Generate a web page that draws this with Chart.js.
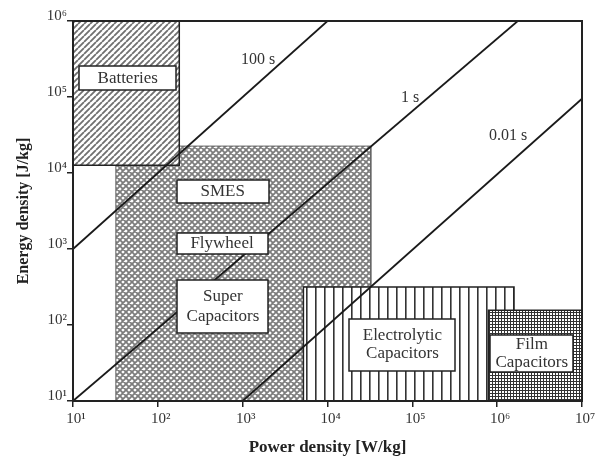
<!DOCTYPE html>
<html><head><meta charset="utf-8">
<script src="https://cdn.jsdelivr.net/npm/chart.js@4.4.0/dist/chart.umd.min.js"></script>
<style>html,body{margin:0;padding:0;background:#fff}#wrap{width:606px;height:464px}</style>
</head><body><div id="wrap"><canvas id="c" width="606" height="464"></canvas></div>
<script>
// ---- tick values / labels ----
const xTickValues = [1e1, 1e2, 1e3, 1e4, 1e5, 1e6, 1e7];
const xTickLabels = ['10¹', '10²', '10³', '10⁴', '10⁵', '10⁶', '10⁷'];
const yTickValues = [1e1, 1e2, 1e3, 1e4, 1e5, 1e6];
const yTickLabels = ['10¹', '10²', '10³', '10⁴', '10⁵', '10⁶'];

// ---- technology regions (W/kg, J/kg) ----
const categories = ['Batteries', 'SMES / Flywheel / Super Capacitors', 'Electrolytic Capacitors', 'Film Capacitors'];
const powerMin  = [10,     32,     5200,   7.9e5];
const powerMax  = [179,    3.24e4, 1.58e6, 1e7];
const energyMin = [1.26e4, 10,     10,     10];
const energyMax = [1e6,    2.26e4, 316,    156];

// ---- discharge-time lines ----
const dischargeTimes   = ['100 s', '1 s', '0.01 s'];
const lineStartPower   = [10,   10,     1e3];
const lineStartEnergy  = [1e3,  10,     10];
const lineEndPower     = [1e4,  1.75e6, 1e7];
const lineEndEnergy    = [1e6,  1e6,    9.5e4];

// ---- label placement (data coordinates) ----
const boxLayout = [
  {lines: ['Batteries'], p: 44.2, e: 1.77e5, w: 97, h: 24, lh: 19},
  {lines: ['SMES'], p: 582, e: 5740, w: 92, h: 23, lh: 19},
  {lines: ['Flywheel'], p: 571, e: 1190, w: 91, h: 21, lh: 19},
  {lines: ['Super', 'Capacitors'], p: 585, e: 172.6, w: 91, h: 53, lh: 20},
  {lines: ['Electrolytic', 'Capacitors'], p: 76400, e: 55.3, w: 106, h: 52, lh: 18.5},
  {lines: ['Film', 'Capacitors'], p: 2.56e6, e: 42, w: 83, h: 37, lh: 18}
];
const lineLabelLayout = [
  {p: 1516, e: 3.13e5},
  {p: 94200, e: 99000},
  {p: 1.35e6, e: 31300}
];

const SERIF = "'Liberation Serif', 'Times New Roman', serif";

function makePattern(kind) {
  const c = document.createElement('canvas');
  const ctx = c.getContext('2d');
  if (kind === 'diag') {
    c.width = 6; c.height = 6;
    ctx.fillStyle = '#fff'; ctx.fillRect(0, 0, 6, 6);
    ctx.strokeStyle = '#707070'; ctx.lineWidth = 1.8;
    ctx.beginPath();
    for (const o of [-6, 0, 6]) { ctx.moveTo(o, 6); ctx.lineTo(o + 6, 0); }
    ctx.stroke();
  } else if (kind === 'cross') {
    c.width = 6; c.height = 6;
    ctx.fillStyle = '#fff'; ctx.fillRect(0, 0, 6, 6);
    ctx.strokeStyle = '#7c7c7c'; ctx.lineWidth = 1.8;
    ctx.beginPath();
    for (const o of [-6, 0, 6]) {
      ctx.moveTo(o, 6); ctx.lineTo(o + 6, 0);
      ctx.moveTo(o, 0); ctx.lineTo(o + 6, 6);
    }
    ctx.stroke();
  } else if (kind === 'vert') {
    c.width = 9; c.height = 4;
    ctx.fillStyle = '#fff'; ctx.fillRect(0, 0, 9, 4);
    ctx.fillStyle = '#333'; ctx.fillRect(0, 0, 1.6, 4);
  } else {
    c.width = 3; c.height = 3;
    ctx.fillStyle = '#fff'; ctx.fillRect(0, 0, 3, 3);
    ctx.fillStyle = '#333';
    ctx.fillRect(0, 0, 3, 1); ctx.fillRect(0, 0, 1, 3);
  }
  return ctx.createPattern(c, 'repeat');
}

const patterns = [makePattern('diag'), makePattern('cross'), makePattern('vert'), makePattern('grid')];
const regionOrder = [3, 4, 2, 1]; // lower = drawn on top
const regionBorder = ['#222', '#666', '#222', '#222'];
const regionBorderWidth = [1.5, 1, 1.5, 1.5];

const datasets = [];
categories.forEach((name, i) => {
  datasets.push({
    label: name,
    data: [
      {x: powerMin[i], y: energyMin[i]},
      {x: powerMin[i], y: energyMax[i]},
      {x: powerMax[i], y: energyMax[i]},
      {x: powerMax[i], y: energyMin[i]},
      {x: powerMin[i], y: energyMin[i]}
    ],
    fill: 'shape',
    backgroundColor: patterns[i],
    borderColor: regionBorder[i],
    borderWidth: regionBorderWidth[i],
    pointRadius: 0,
    tension: 0,
    order: regionOrder[i]
  });
});
dischargeTimes.forEach((name, i) => {
  datasets.push({
    label: name,
    data: [{x: lineStartPower[i], y: lineStartEnergy[i]}, {x: lineEndPower[i], y: lineEndEnergy[i]}],
    fill: false,
    borderColor: '#1a1a1a',
    borderWidth: 1.8,
    pointRadius: 0,
    tension: 0,
    order: 0
  });
});

const annotatePlugin = {
  id: 'annotate',
  afterDatasetsDraw(chart) {
    const {ctx, chartArea: a, scales} = chart;
    ctx.save();
    // frame
    ctx.strokeStyle = '#222';
    ctx.lineWidth = 2;
    ctx.strokeRect(a.left, a.top, a.right - a.left, a.bottom - a.top);
    // line labels
    ctx.fillStyle = '#333';
    ctx.font = "16px " + SERIF;
    ctx.textAlign = 'center';
    ctx.textBaseline = 'middle';
    dischargeTimes.forEach((t, i) => {
      const L = lineLabelLayout[i];
      ctx.fillText(t, scales.x.getPixelForValue(L.p), scales.y.getPixelForValue(L.e));
    });
    // boxes
    ctx.font = "17px " + SERIF;
    boxLayout.forEach(b => {
      const cx = scales.x.getPixelForValue(b.p);
      const cy = scales.y.getPixelForValue(b.e);
      const x0 = Math.round(cx - b.w / 2), y0 = Math.round(cy - b.h / 2);
      ctx.fillStyle = '#fff';
      ctx.fillRect(x0, y0, b.w, b.h);
      ctx.strokeStyle = '#222';
      ctx.lineWidth = 1.5;
      ctx.strokeRect(x0, y0, b.w, b.h);
      ctx.fillStyle = '#333';
      b.lines.forEach((ln, k) => {
        ctx.fillText(ln, cx, cy + (k - (b.lines.length - 1) / 2) * b.lh);
      });
    });
    ctx.restore();
  }
};

new Chart(document.getElementById('c'), {
  type: 'line',
  data: {datasets},
  options: {
    responsive: false,
    devicePixelRatio: 1,
    animation: false,
    layout: {padding: {left: 0, top: 21, right: 24, bottom: 0}},
    plugins: {legend: {display: false}, tooltip: {enabled: false}},
    scales: {
      x: {
        type: 'logarithmic',
        min: 10, max: 1e7,
        afterBuildTicks: s => { s.ticks = xTickValues.map(v => ({value: v})); },
        afterFit: s => { s.height = 63; },
        ticks: {
          callback: (v, i) => xTickLabels[i],
          autoSkip: false, maxRotation: 0, padding: 3, labelOffset: 3,
          color: '#333', font: {family: SERIF, size: 15}
        },
        grid: {display: true, drawOnChartArea: false, drawTicks: true, tickLength: 6, color: '#222', lineWidth: 1.5},
        border: {display: false},
        title: {display: true, text: 'Power density [W/kg]', color: '#222',
                font: {family: SERIF, size: 17, weight: 'bold'}, padding: {top: 0, bottom: 6}}
      },
      y: {
        type: 'logarithmic',
        min: 10, max: 1e6,
        afterBuildTicks: s => { s.ticks = yTickValues.map(v => ({value: v})); },
        afterFit: s => { s.width = 73; },
        ticks: {
          callback: (v, i) => yTickLabels[i],
          autoSkip: false, padding: 0, labelOffset: -5,
          color: '#333', font: {family: SERIF, size: 15}
        },
        grid: {display: true, drawOnChartArea: false, drawTicks: true, tickLength: 6, color: '#222', lineWidth: 1.5},
        border: {display: false},
        title: {display: true, text: 'Energy density [J/kg]', color: '#222',
                font: {family: SERIF, size: 16, weight: 'bold'}, padding: {top: 14, bottom: 0}}
      }
    }
  },
  plugins: [annotatePlugin]
});
</script>
</body></html>
